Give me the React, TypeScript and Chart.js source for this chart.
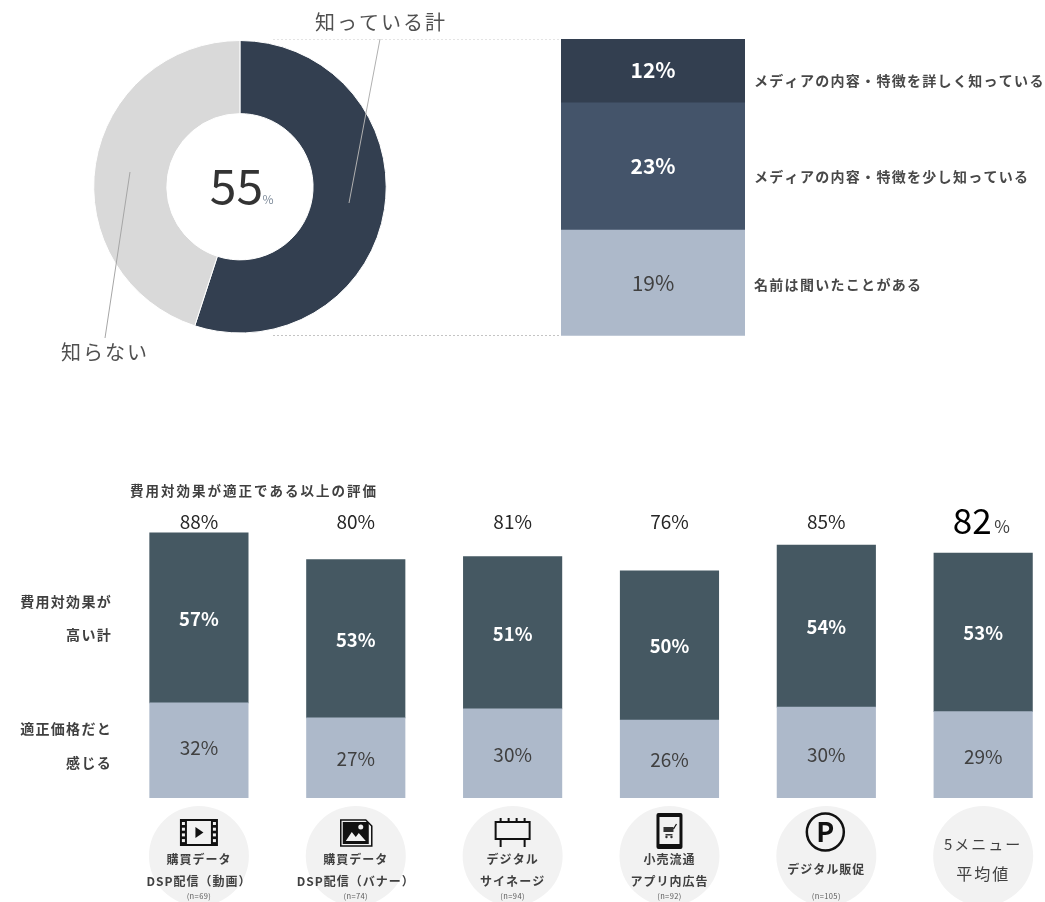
import React, { useEffect, useRef } from "react";
import { Chart, registerables } from "chart.js";

Chart.register(...registerables);

const awarenessLabels = ["知っている計", "知らない"];
const awarenessValues = [55, 45];
const detailLabels = [
  "名前は聞いたことがある",
  "メディアの内容・特徴を少し知っている",
  "メディアの内容・特徴を詳しく知っている",
];
const detailValues = [19.2, 23.1, 11.6];
const categories = ["DSP動画", "DSPバナー", "サイネージ", "アプリ内広告", "販促", "平均"];
const fairPriceValues = [31.7, 26.7, 29.7, 26.0, 30.3, 28.8];
const highValueValues = [56.7, 52.8, 50.8, 49.7, 54.0, 52.8];
const totalLabels = ["88", "80", "81", "76", "85", "82"];
const categoryLines = [
  ["購買データ", "DSP配信（動画）"],
  ["購買データ", "DSP配信（バナー）"],
  ["デジタル", "サイネージ"],
  ["小売流通", "アプリ内広告"],
  ["デジタル販促"],
  ["5メニュー", "平均値"],
];
const sampleLabels = ["(n=69)", "(n=74)", "(n=94)", "(n=92)", "(n=105)", ""];

const FONT = '"Noto Sans CJK JP", "Noto Sans", sans-serif';
const FAIR_NUDGE = [-3, 1, 1, 1, 2, 2];

type TextOpts = {
  size: number;
  weight?: string;
  color?: string;
  align?: CanvasTextAlign;
  spacing?: number;
};

function text(ctx: any, s: string, x: number, y: number, o: TextOpts) {
  ctx.save();
  ctx.font = `${o.weight || "normal"} ${o.size}px ${FONT}`;
  ctx.fillStyle = o.color || "#404040";
  ctx.textAlign = o.align || "center";
  ctx.textBaseline = "middle";
  ctx.letterSpacing = `${o.spacing || 0}px`;
  ctx.fillText(s, x, y);
  ctx.restore();
}

function line(ctx: any, x1: number, y1: number, x2: number, y2: number, color: string, w = 1, dash: number[] = []) {
  ctx.save();
  ctx.strokeStyle = color;
  ctx.lineWidth = w;
  ctx.setLineDash(dash);
  ctx.beginPath();
  ctx.moveTo(x1, y1);
  ctx.lineTo(x2, y2);
  ctx.stroke();
  ctx.restore();
}

const donutOverlay = {
  id: "donutOverlay",
  afterDraw(chart: any) {
    const c = chart.ctx;
    const arc = chart.getDatasetMeta(0).data[0];
    const cx = arc.x;
    line(c, 273, 39.5, 561, 39.5, "#e4e4e4", 1, [2, 2]);
    line(c, 273, 335.5, 561, 335.5, "#c4c4c4", 1, [2, 2]);
    line(c, 380, 39, 349, 203, "#b0b0b0", 1);
    line(c, 130, 172, 105, 338, "#a6a6a6", 1);
    text(c, awarenessLabels[0], 381, 22, { size: 20, color: "#505050", spacing: 2 });
    text(c, awarenessLabels[1], 105, 352, { size: 20, color: "#505050", spacing: 2 });
    text(c, String(awarenessValues[0]), cx - 3.5, 186, { size: 48, color: "#333333" });
    text(c, "%", 268, 199, { size: 12, color: "#7d8a99" });
  },
};

const detailOverlay = {
  id: "detailOverlay",
  afterDraw(chart: any) {
    const c = chart.ctx;
    const lx = 754 - 561;
    detailValues.forEach((v, i) => {
      const el = chart.getDatasetMeta(i).data[0];
      const y = (el.y + el.base) / 2;
      const light = i === 0;
      text(c, `${Math.round(v)}%`, el.x, i === 2 ? y - 1 : y, {
        size: 21,
        weight: light ? "normal" : "bold",
        color: light ? "#404040" : "#ffffff",
      });
      const off = i === 2 ? 10 : i === 1 ? 10 : 2;
      text(c, detailLabels[i], lx, y + off, { size: 14, weight: "bold", color: "#484848", align: "left", spacing: 1.3 });
    });
  },
};

function icon(c: any, i: number, x: number) {
  c.save();
  c.fillStyle = "#111";
  c.strokeStyle = "#111";
  if (i === 0) {
    c.fillRect(x - 19, 819, 38, 27);
    c.fillStyle = "#f2f2f2";
    c.fillRect(x - 12, 821, 24, 23);
    for (let k = 0; k < 4; k++) {
      c.fillRect(x - 17, 822 + k * 5.7, 3, 3);
      c.fillRect(x + 14, 822 + k * 5.7, 3, 3);
    }
    c.fillStyle = "#111";
    c.beginPath();
    c.moveTo(x - 3.5, 827);
    c.lineTo(x + 4.5, 832.5);
    c.lineTo(x - 3.5, 838);
    c.fill();
  } else if (i === 1) {
    c.lineWidth = 1.5;
    c.beginPath();
    c.moveTo(x - 15, 820);
    c.lineTo(x + 10, 820);
    c.lineTo(x + 16, 826);
    c.lineTo(x + 16, 846);
    c.lineTo(x - 15, 846);
    c.closePath();
    c.stroke();
    c.fillRect(x - 13, 822, 26, 22);
    c.fillStyle = "#f2f2f2";
    c.beginPath();
    c.arc(x + 5, 827, 2.5, 0, Math.PI * 2);
    c.fill();
    c.beginPath();
    c.moveTo(x - 10, 841);
    c.lineTo(x - 4, 832);
    c.lineTo(x, 837);
    c.lineTo(x + 3, 833);
    c.lineTo(x + 10, 841);
    c.fill();
  } else if (i === 2) {
    c.lineWidth = 2;
    c.strokeRect(x - 17, 822, 34, 17);
    c.beginPath();
    [-12, -4, 4, 12].forEach((d) => {
      c.moveTo(x + d, 818);
      c.lineTo(x + d, 822);
    });
    [-12, 12].forEach((d) => {
      c.moveTo(x + d, 839);
      c.lineTo(x + d, 847);
    });
    c.stroke();
  } else if (i === 3) {
    c.beginPath();
    c.roundRect(x - 13, 813, 26, 36, 2);
    c.fill();
    c.fillStyle = "#f2f2f2";
    c.fillRect(x - 10, 817, 20, 27);
    c.fillStyle = "#333";
    c.fillRect(x - 6, 827, 10, 5);
    c.fillRect(x - 4, 834, 7, 1.5);
    c.lineWidth = 1.2;
    c.beginPath();
    c.moveTo(x + 4, 829);
    c.lineTo(x + 7, 824);
    c.stroke();
    c.beginPath();
    c.arc(x - 3, 837, 1.2, 0, Math.PI * 2);
    c.arc(x + 2, 837, 1.2, 0, Math.PI * 2);
    c.fill();
  } else if (i === 4) {
    c.lineWidth = 2.5;
    c.beginPath();
    c.arc(x - 1, 832, 18.5, 0, Math.PI * 2);
    c.stroke();
    text(c, "P", x - 1, 832, { size: 27, weight: "bold", color: "#111" });
  }
  c.restore();
}

const barBackdrop = {
  id: "barBackdrop",
  beforeDatasetsDraw(chart: any) {
    const c = chart.ctx;
    const xs = chart.scales.x;
    c.save();
    c.fillStyle = "#f2f2f2";
    categories.forEach((_, i) => {
      c.beginPath();
      c.arc(xs.getPixelForValue(i), 856 - 470, 50, 0, Math.PI * 2);
      c.fill();
    });
    c.restore();
  },
  afterDraw(chart: any) {
    const c = chart.ctx;
    const xs = chart.scales.x;
    c.save();
    c.translate(0, -470);
    const common = { size: 14, weight: "bold", spacing: 1.3, align: "right" as const };
    text(c, "費用対効果が適正である以上の評価", 130, 491, { size: 13.5, weight: "bold", spacing: 2, align: "left" });
    text(c, "費用対効果が", 112, 602, common);
    text(c, "高い計", 112, 635, common);
    text(c, "適正価格だと", 112, 729, common);
    text(c, "感じる", 112, 763, common);
    categories.forEach((_, i) => {
      const x = xs.getPixelForValue(i);
      const lo = chart.getDatasetMeta(0).data[i];
      const hi = chart.getDatasetMeta(1).data[i];
      text(c, `${Math.round(fairPriceValues[i])}%`, x, (lo.y + lo.base) / 2 + 470 + FAIR_NUDGE[i], { size: 19, color: "#404040" });
      text(c, `${Math.round(highValueValues[i])}%`, x, (hi.y + hi.base) / 2 + 471, { size: 18.5, weight: "bold", color: "#ffffff" });
      if (i < 5) {
        text(c, `${totalLabels[i]}%`, x, 522, { size: 19, color: "#262626" });
      } else {
        text(c, totalLabels[i], x - 11, 521, { size: 35, color: "#000000" });
        text(c, "%", x + 19, 527, { size: 17, color: "#404040" });
      }
      icon(c, i, x);
      const lines = categoryLines[i];
      if (i === 5) {
        text(c, lines[0], x, 844, { size: 15, color: "#404040", spacing: 2 });
        text(c, lines[1], x, 874, { size: 16, color: "#404040", spacing: 2 });
      } else if (lines.length === 1) {
        text(c, lines[0], x, 869, { size: 12, weight: "bold", color: "#404040", spacing: 1 });
      } else {
        text(c, lines[0], x, 859, { size: 12, weight: "bold", color: "#404040", spacing: 1 });
        text(c, lines[1], x, 881, { size: 12, weight: "bold", color: "#404040", spacing: 1 });
      }
      if (sampleLabels[i]) text(c, sampleLabels[i], x, 896, { size: 7.5, color: "#595959", spacing: 0.4 });
    });
    c.restore();
  },
};

export default function App() {
  const donutRef = useRef<HTMLCanvasElement>(null);
  const detailRef = useRef<HTMLCanvasElement>(null);
  const barsRef = useRef<HTMLCanvasElement>(null);

  useEffect(() => {
    const base = {
      responsive: false,
      animation: false as const,
      plugins: { legend: { display: false }, tooltip: { enabled: false } },
    };
    const donut = new Chart(donutRef.current!, {
      type: "doughnut",
      data: {
        labels: awarenessLabels,
        datasets: [{ data: awarenessValues, backgroundColor: ["#333F50", "#D9D9D9"], borderColor: "#ffffff", borderWidth: 1 }],
      },
      options: {
        ...base,
        cutout: "50%",
        layout: { padding: { left: 93.2, right: 174.3, top: 40, bottom: 66.5 } },
      },
      plugins: [donutOverlay],
    } as any);

    const detailColors = ["#ADB9CA", "#44546A", "#333F50"];
    const detail = new Chart(detailRef.current!, {
      type: "bar",
      data: {
        labels: ["認知"],
        datasets: detailValues.map((v, i) => ({
          label: detailLabels[i],
          data: [v],
          backgroundColor: detailColors[i],
          borderWidth: 0,
          categoryPercentage: 1,
          barPercentage: 1,
        })),
      },
      options: {
        ...base,
        layout: { padding: { left: 0, right: 300, top: 39, bottom: 64.3 } },
        scales: {
          x: { stacked: true, display: false },
          y: { stacked: true, display: false, min: 0, max: detailValues.reduce((a, b) => a + b, 0) },
        },
      },
      plugins: [detailOverlay],
    } as any);

    const bars = new Chart(barsRef.current!, {
      type: "bar",
      data: {
        labels: categories,
        datasets: [
          { label: "適正価格だと感じる", data: fairPriceValues, backgroundColor: "#ADB9CA", borderWidth: 0, barThickness: 98.5 },
          { label: "費用対効果が高い計", data: highValueValues, backgroundColor: "#455862", borderWidth: 0, barThickness: 98.5 },
        ],
      },
      options: {
        ...base,
        layout: { padding: { left: 120.5, right: 3.4, top: 28, bottom: 104 } },
        scales: {
          x: { stacked: true, display: false },
          y: { stacked: true, display: false, min: 0, max: 100 },
        },
      },
      plugins: [barBackdrop],
    } as any);

    return () => {
      donut.destroy();
      detail.destroy();
      bars.destroy();
    };
  }, []);

  return (
    <div style={{ position: "absolute", left: 0, top: 0, width: 1045, height: 902, overflow: "hidden", background: "#ffffff" }}>
      <canvas ref={detailRef} width={484} height={400} style={{ position: "absolute", left: 561, top: 0 }} />
      <canvas ref={donutRef} width={561} height={400} style={{ position: "absolute", left: 0, top: 0 }} />
      <canvas ref={barsRef} width={1065} height={432} style={{ position: "absolute", left: 0, top: 470 }} />
    </div>
  );
}
